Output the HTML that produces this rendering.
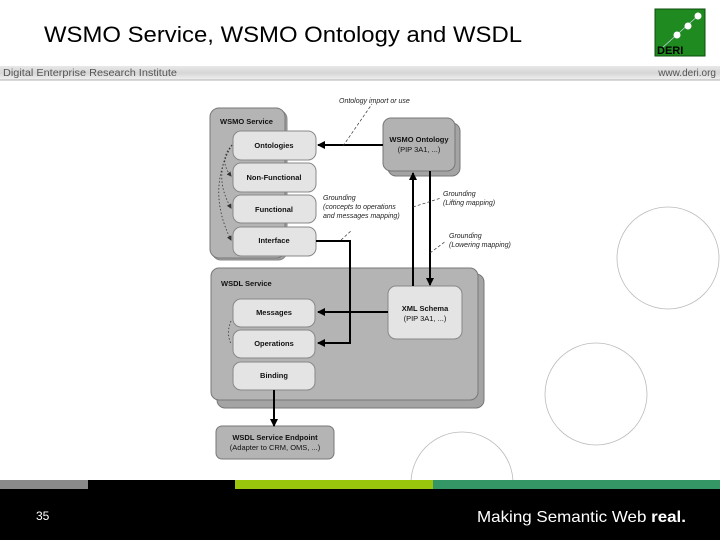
<!DOCTYPE html>
<html><head><meta charset="utf-8"><style>
html,body{margin:0;padding:0;width:720px;height:540px;overflow:hidden;background:#fff;font-family:"Liberation Sans",sans-serif}
</style></head><body>
<svg width="720" height="540" viewBox="0 0 720 540" xmlns="http://www.w3.org/2000/svg" font-family="Liberation Sans, sans-serif">
<defs>
<linearGradient id="hb" x1="0" y1="0" x2="0" y2="1"><stop offset="0" stop-color="#e8e8e8"/><stop offset="0.5" stop-color="#d6d6d6"/><stop offset="1" stop-color="#f2f2f2"/></linearGradient>
<marker id="ah" markerWidth="8" markerHeight="8" refX="7" refY="4" orient="auto" markerUnits="userSpaceOnUse"><path d="M0,0 L8,4 L0,8 z" fill="#000"/></marker>
<marker id="sa" markerWidth="5" markerHeight="5" refX="4" refY="2.5" orient="auto" markerUnits="userSpaceOnUse"><path d="M0,0 L5,2.5 L0,5 z" fill="#333"/></marker>
</defs>
<text x="44" y="42" font-size="22" fill="#000" textLength="478" lengthAdjust="spacingAndGlyphs">WSMO Service, WSMO Ontology and WSDL</text>
<rect x="655" y="9" width="50" height="47" fill="#1f8a1f" stroke="#0d4d0d"/>
<line x1="662" y1="48" x2="700" y2="14" stroke="#cde" stroke-width="0.7"/>
<circle cx="698" cy="16" r="3.5" fill="#fff"/><circle cx="688" cy="26" r="3.5" fill="#fff"/><circle cx="677" cy="35" r="3.5" fill="#fff"/>
<text x="657" y="54" font-size="11" font-weight="bold" fill="#000">DERI</text>
<rect x="0" y="66" width="720" height="14" fill="url(#hb)"/>
<line x1="0" y1="80" x2="720" y2="80" stroke="#999" stroke-width="0.8"/>
<text x="3" y="76" font-size="10" fill="#555" textLength="174" lengthAdjust="spacingAndGlyphs">Digital Enterprise Research Institute</text>
<text x="716" y="76" font-size="10" fill="#555" text-anchor="end">www.deri.org</text>

<g fill="none" stroke="#bbb" stroke-width="0.8">
<circle cx="668" cy="258" r="51"/><circle cx="596" cy="394" r="51"/><circle cx="462" cy="483" r="51"/>
</g>

<rect x="212" y="110" width="75" height="150" rx="9" fill="#a0a0a0" stroke="#888"/>
<rect x="210" y="108" width="75" height="150" rx="9" fill="#b4b4b4" stroke="#777"/>
<text x="220" y="124" font-size="7.5" font-weight="bold" fill="#111">WSMO Service</text>
<g fill="#e4e4e4" stroke="#888">
<rect x="233" y="131" width="83" height="29" rx="8"/>
<rect x="233" y="163" width="83" height="29" rx="8"/>
<rect x="233" y="195" width="83" height="28" rx="8"/>
<rect x="233" y="227" width="83" height="29" rx="8"/>
</g>
<g font-size="7.5" font-weight="bold" fill="#111" text-anchor="middle">
<text x="274" y="148">Ontologies</text>
<text x="274" y="180">Non-Functional</text>
<text x="274" y="212">Functional</text>
<text x="274" y="243">Interface</text>
</g>
<g fill="none" stroke="#333" stroke-width="0.8" stroke-dasharray="1.5,2">
<path d="M232,145 Q218,160 231,176" marker-end="url(#sa)"/>
<path d="M232,145 Q212,175 231,208" marker-end="url(#sa)"/>
<path d="M232,145 Q206,190 231,240" marker-end="url(#sa)"/>
</g>

<rect x="388" y="123" width="72" height="53" rx="8" fill="#a4a4a4" stroke="#777"/>
<rect x="383" y="118" width="72" height="53" rx="8" fill="#b2b2b2" stroke="#777"/>
<text x="419" y="142" font-size="7.5" font-weight="bold" text-anchor="middle" fill="#111">WSMO Ontology</text>
<text x="419" y="152" font-size="7.5" text-anchor="middle" fill="#111">(PIP 3A1, ...)</text>

<rect x="217" y="274" width="267" height="134" rx="8" fill="#a4a4a4" stroke="#777"/>
<rect x="211" y="268" width="267" height="132" rx="8" fill="#b4b4b4" stroke="#777"/>
<text x="221" y="286" font-size="7.5" font-weight="bold" fill="#111">WSDL Service</text>
<rect x="388" y="286" width="74" height="53" rx="8" fill="#e4e4e4" stroke="#888"/>
<text x="425" y="311" font-size="7.5" font-weight="bold" text-anchor="middle" fill="#111">XML Schema</text>
<text x="425" y="321" font-size="7.5" text-anchor="middle" fill="#111">(PIP 3A1, ...)</text>
<g fill="#e4e4e4" stroke="#888">
<rect x="233" y="299" width="82" height="28" rx="8"/>
<rect x="233" y="330" width="82" height="28" rx="8"/>
<rect x="233" y="362" width="82" height="28" rx="8"/>
</g>
<g font-size="7.5" font-weight="bold" fill="#111" text-anchor="middle">
<text x="274" y="315">Messages</text>
<text x="274" y="346">Operations</text>
<text x="274" y="378">Binding</text>
</g>
<path d="M231,321 Q226,333 231,344" fill="none" stroke="#333" stroke-width="0.8" stroke-dasharray="1.5,2"/>

<rect x="216" y="426" width="118" height="33" rx="6" fill="#b4b4b4" stroke="#777"/>
<text x="275" y="440" font-size="7.5" font-weight="bold" text-anchor="middle" fill="#111">WSDL Service Endpoint</text>
<text x="275" y="450" font-size="7.5" text-anchor="middle" fill="#111">(Adapter to CRM, OMS, ...)</text>

<g stroke="#000" stroke-width="2" fill="none">
<line x1="383" y1="145" x2="318" y2="145" marker-end="url(#ah)"/>
<line x1="413" y1="286" x2="413" y2="173" marker-end="url(#ah)"/>
<line x1="430" y1="171" x2="430" y2="285" marker-end="url(#ah)"/>
<polyline points="316,241 350,241 350,343 318,343" marker-end="url(#ah)"/>
<line x1="388" y1="312" x2="318" y2="312" marker-end="url(#ah)"/>
<line x1="274" y1="390" x2="274" y2="426" marker-end="url(#ah)"/>
</g>
<g stroke="#333" stroke-width="0.7" stroke-dasharray="3,2" fill="none">
<line x1="343" y1="146" x2="372" y2="104"/>
<line x1="341" y1="240" x2="352" y2="230"/>
<line x1="413" y1="207" x2="441" y2="198"/>
<line x1="430" y1="253" x2="446" y2="241"/>
</g>
<g font-size="7" font-style="italic" fill="#222">
<text x="339" y="103">Ontology import or use</text>
<text x="323" y="200">Grounding</text>
<text x="323" y="209">(concepts to operations</text>
<text x="323" y="218">and messages mapping)</text>
<text x="443" y="196">Grounding</text>
<text x="443" y="205">(Lifting mapping)</text>
<text x="449" y="238">Grounding</text>
<text x="449" y="247">(Lowering mapping)</text>
</g>

<rect x="0" y="480" width="720" height="60" fill="#000"/>
<rect x="0" y="480" width="88" height="9" fill="#8a8a8a"/>
<rect x="235" y="480" width="198" height="9" fill="#99c60c"/>
<rect x="433" y="480" width="287" height="9" fill="#359665"/>
<text x="36" y="520" font-size="12" fill="#fff">35</text>
<text x="477" y="522" font-size="16" fill="#fff" textLength="209" lengthAdjust="spacingAndGlyphs">Making Semantic Web <tspan font-weight="bold">real.</tspan></text>
</svg>
</body></html>
